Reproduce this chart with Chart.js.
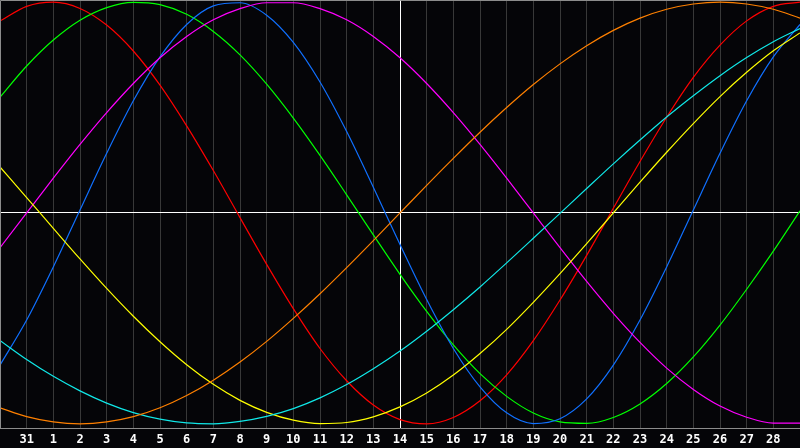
<!DOCTYPE html>
<html>
<head>
<meta charset="utf-8">
<script src="https://cdn.jsdelivr.net/npm/chart.js@4"></script>
<style>
  html, body { margin: 0; padding: 0; background: #050508; }
  #wrap { width: 800px; height: 448px; }
</style>
</head>
<body>
<div id="wrap"><canvas id="bio"></canvas></div>
<script>
// day labels under the gridlines (today = 14, the white line)
const dayLabels = ['31', '1', '2', '3', '4', '5', '6', '7', '8', '9', '10', '11', '12', '13', '14',
  '15', '16', '17', '18', '19', '20', '21', '22', '23', '24', '25', '26', '27', '28'];
const todayIndex = 15;

// one value per day slot 0..30 (-1 bottom .. +1 top)
const red = [0.910, 0.980, 1.000, 0.970, 0.891, 0.768, 0.606, 0.413, 0.201, -0.022, -0.244, -0.454, -0.643, -0.796, -0.911, -0.980,
  -1.000, -0.970, -0.891, -0.768, -0.606, -0.413, -0.201, 0.022, 0.244, 0.454, 0.643, 0.796, 0.911, 0.980, 1.000];
const green = [0.549, 0.697, 0.820, 0.914, 0.974, 0.999, 0.988, 0.942, 0.861, 0.750, 0.611, 0.450, 0.273, 0.086, -0.104, -0.291,
  -0.467, -0.626, -0.762, -0.870, -0.949, -0.991, -0.998, -0.970, -0.906, -0.809, -0.683, -0.532, -0.362, -0.181, 0.010];
const blue = [-0.722, -0.508, -0.256, 0.014, 0.283, 0.532, 0.740, 0.894, 0.982, 0.997, 0.938, 0.809, 0.621, 0.386, 0.122, -0.150,
  -0.411, -0.643, -0.825, -0.948, -0.999, -0.976, -0.882, -0.722, -0.508, -0.256, 0.014, 0.283, 0.532, 0.740, 0.894];
const magenta = [-0.165, 0.000, 0.165, 0.325, 0.476, 0.614, 0.736, 0.837, 0.916, 0.969, 0.997, 0.997, 0.969, 0.916, 0.837, 0.736,
  0.614, 0.476, 0.325, 0.165, 0.000, -0.165, -0.325, -0.476, -0.614, -0.736, -0.837, -0.916, -0.969, -0.997, -0.997];
const orange = [-0.924, -0.966, -0.991, -1.000, -0.991, -0.966, -0.924, -0.866, -0.793, -0.707, -0.609, -0.500, -0.383, -0.259, -0.131, 0.000,
  0.131, 0.259, 0.383, 0.500, 0.609, 0.707, 0.793, 0.866, 0.924, 0.966, 0.991, 1.000, 0.991, 0.966, 0.924];
const cyan = [-0.605, -0.695, -0.775, -0.844, -0.902, -0.947, -0.978, -0.996, -1.000, -0.989, -0.965, -0.928, -0.877, -0.814, -0.739, -0.655,
  -0.561, -0.459, -0.351, -0.237, -0.120, -0.002, 0.116, 0.233, 0.346, 0.455, 0.556, 0.651, 0.737, 0.812, 0.875];
const yellow = [0.218, 0.073, -0.073, -0.218, -0.358, -0.490, -0.611, -0.720, -0.813, -0.889, -0.946, -0.983, -0.999, -0.994, -0.967, -0.920,
  -0.854, -0.769, -0.667, -0.552, -0.424, -0.288, -0.146, 0.000, 0.146, 0.288, 0.424, 0.552, 0.667, 0.769, 0.854];

const toPoints = (arr) => arr.map((v, i) => ({ x: i, y: v }));

const series = [
  { data: orange, color: '#ff8000' },
  { data: cyan, color: '#10e8e8' },
  { data: yellow, color: '#ffff00' },
  { data: magenta, color: '#ff00ff' },
  { data: blue, color: '#1070ff' },
  { data: green, color: '#00ff00' },
  { data: red, color: '#ff0000' },
];

/* frame on top and left of the plot */
const framePlugin = {
  id: 'frame',
  afterDraw(chart) {
    const a = chart.chartArea;
    const ctx = chart.ctx;
    ctx.save();
    ctx.strokeStyle = '#8c8c8c';
    ctx.lineWidth = 1;
    ctx.beginPath();
    ctx.moveTo(a.left + 0.5, a.bottom);
    ctx.lineTo(a.left + 0.5, a.top + 0.5);
    ctx.lineTo(a.right, a.top + 0.5);
    ctx.stroke();
    ctx.restore();
  },
};

const chart = new Chart(document.getElementById('bio'), {
  type: 'line',
  data: {
    datasets: series.map((s) => ({
      data: toPoints(s.data),
      borderColor: s.color,
      borderWidth: 1.2,
      pointRadius: 0,
      cubicInterpolationMode: 'monotone',
      fill: false,
    })),
  },
  options: {
    responsive: true,
    maintainAspectRatio: false,
    animation: false,
    layout: { padding: 0 },
    plugins: {
      legend: { display: false },
      tooltip: { enabled: false },
    },
    scales: {
      x: {
        type: 'linear',
        min: 0,
        max: 30,
        afterBuildTicks: (scale) => {
          scale.ticks = dayLabels.map((_, i) => ({ value: i + 1 }));
        },
        afterFit: (scale) => {
          scale.height = 20;
        },
        ticks: {
          autoSkip: false,
          maxRotation: 0,
          padding: 5,
          color: '#ffffff',
          font: { family: 'DejaVu Sans Mono', size: 12, weight: 'bold' },
          callback: (value, index) => dayLabels[index],
        },
        grid: {
          drawTicks: false,
          lineWidth: 1,
          color: (ctx) => (ctx.tick && ctx.tick.value === todayIndex ? '#ffffff' : '#383838'),
        },
        border: { display: true, color: '#8c8c8c' },
      },
      y: {
        min: -1.02,
        max: 1.01,
        afterBuildTicks: (scale) => {
          scale.ticks = [{ value: 0 }];
        },
        afterFit: (scale) => {
          scale.width = 0;
        },
        ticks: { display: false },
        grid: { drawTicks: false, color: '#ffffff' },
        border: { display: false },
      },
    },
  },
  plugins: [framePlugin],
});
</script>
</body>
</html>
